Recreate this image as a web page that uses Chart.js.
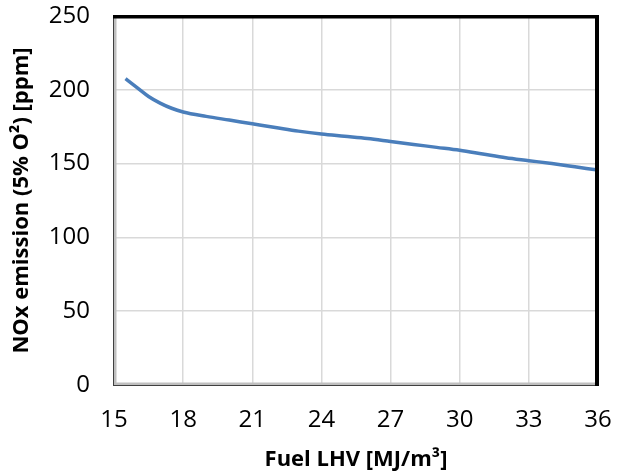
<!DOCTYPE html>
<html>
<head>
<meta charset="utf-8">
<script src="https://cdn.jsdelivr.net/npm/chart.js@4"></script>
<style>
html,body{margin:0;padding:0;background:#fff;}
#wrap{width:624px;height:473px;}
</style>
</head>
<body>
<div id="wrap"><canvas id="c" width="624" height="473"></canvas></div>
<script>
const lhv = [15.5, 16, 16.5, 17, 17.5, 18, 19, 20, 21, 22, 23, 24, 25, 26, 27, 28, 29, 30, 31, 32, 33, 34, 35, 36];
const nox = [207.5, 201.5, 195.5, 191, 187.5, 185, 182, 179.5, 177, 174.5, 172, 170, 168.5, 167, 165, 163, 161, 159, 156.5, 154, 152, 150, 147.8, 145.6];
const xTicks = [15, 18, 21, 24, 27, 30, 33, 36];
const yTicks = [0, 50, 100, 150, 200, 250];
const xTitle = 'Fuel LHV [MJ/m³]';
const yTitle = 'NOx emission (5% O²) [ppm]';

const frame = {
  id: 'frame',
  afterDatasetsDraw(chart) {
    const a = chart.chartArea, ctx = chart.ctx;
    const w = a.right - a.left, h = a.bottom - a.top;
    ctx.save();
    ctx.fillStyle = '#bfbfbf';
    ctx.fillRect(a.left, a.top, 2.5, h);
    ctx.fillRect(a.left, a.bottom - 2.5, w, 2.5);
    ctx.fillStyle = '#404040';
    ctx.fillRect(a.left - 1, a.top - 1, 1, h + 2);
    ctx.fillRect(a.left - 1, a.bottom, w + 2, 1);
    ctx.fillStyle = '#000';
    ctx.fillRect(a.left - 1, a.top - 1, w + 2, 3.5);
    ctx.fillRect(a.right - 3, a.top - 1, 4, h + 2);
    ctx.restore();
  }
};

new Chart(document.getElementById('c'), {
  type: 'line',
  data: {
    datasets: [{
      data: lhv.map((x, i) => ({x: x, y: nox[i]})),
      borderColor: '#4a7ebb',
      borderWidth: 3.5,
      pointRadius: 0,
      cubicInterpolationMode: 'monotone',
      fill: false
    }]
  },
  options: {
    responsive: false,
    animation: false,
    devicePixelRatio: 1,
    layout: {padding: {top: 16, right: 26, left: 9, bottom: 0}},
    plugins: {legend: {display: false}, tooltip: {enabled: false}},
    scales: {
      x: {
        type: 'linear',
        min: 15, max: 36,
        afterBuildTicks(s) { s.ticks = xTicks.map(v => ({value: v})); },
        afterFit(s) { s.height = 88; s.paddingLeft = 0; s.paddingRight = 0; },
        grid: {color: '#d9d9d9', lineWidth: 1.5, drawTicks: false},
        border: {display: false},
        ticks: {color: '#000', padding: 21, font: {family: 'Open Sans', size: 24}},
        title: {display: true, text: xTitle, color: '#000', padding: {top: 10, bottom: 0}, font: {family: 'Open Sans', size: 22, weight: 'bold'}}
      },
      y: {
        min: 0, max: 250,
        afterBuildTicks(s) { s.ticks = yTicks.map(v => ({value: v})); },
        afterFit(s) { s.width = 105; s.paddingTop = 0; s.paddingBottom = 0; },
        grid: {color: '#d9d9d9', lineWidth: 1.5, drawTicks: false},
        border: {display: false},
        ticks: {color: '#000', padding: 24, font: {family: 'Open Sans', size: 24}},
        title: {display: true, text: yTitle, color: '#000', padding: {top: 0, bottom: 10}, font: {family: 'Open Sans', size: 22, weight: 'bold'}}
      }
    }
  },
  plugins: [frame]
});
</script>
</body>
</html>
